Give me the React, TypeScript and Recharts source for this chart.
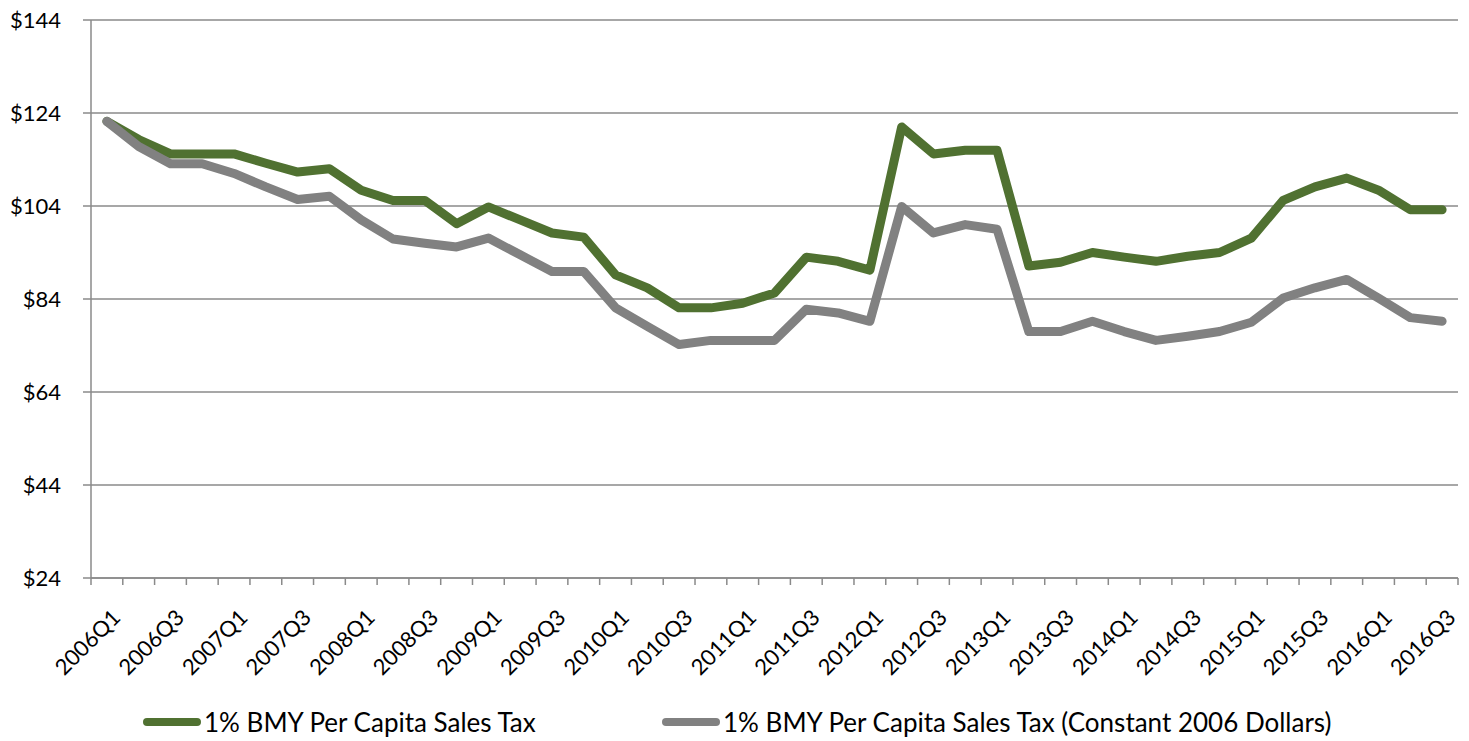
import { LineChart, Line, XAxis, YAxis, CartesianGrid } from 'recharts'

const quarters = [
  '2006Q1', '2006Q2', '2006Q3', '2006Q4',
  '2007Q1', '2007Q2', '2007Q3', '2007Q4',
  '2008Q1', '2008Q2', '2008Q3', '2008Q4',
  '2009Q1', '2009Q2', '2009Q3', '2009Q4',
  '2010Q1', '2010Q2', '2010Q3', '2010Q4',
  '2011Q1', '2011Q2', '2011Q3', '2011Q4',
  '2012Q1', '2012Q2', '2012Q3', '2012Q4',
  '2013Q1', '2013Q2', '2013Q3', '2013Q4',
  '2014Q1', '2014Q2', '2014Q3', '2014Q4',
  '2015Q1', '2015Q2', '2015Q3', '2015Q4',
  '2016Q1', '2016Q2', '2016Q3',
]

const salesTax = [
  122.2, 118.3, 115.2, 115.2, 115.2, 113.2, 111.3, 112, 107.4, 105.2, 105.2,
  100.2, 103.8, 101, 98.2, 97.3, 89.2, 86.4, 82.1, 82.1, 83.1, 85.3, 93, 92.1,
  90.2, 121, 115.2, 116, 116, 91.1, 91.9, 94, 93, 92.1, 93.2, 94, 97.1, 105.2,
  108.1, 110, 107.4, 103.2, 103.2,
]

const salesTaxConstant = [
  122.2, 116.8, 113.1, 113.1, 111, 108.1, 105.4, 106.1, 101, 96.9, 96, 95.2,
  97.1, 93.5, 89.9, 89.9, 82.1, 78.1, 74.2, 75.1, 75.1, 75.1, 81.8, 81, 79.2,
  103.9, 98.2, 100, 99, 77, 77, 79.2, 77, 75.1, 76, 77, 79, 84.2, 86.4, 88.2,
  84.2, 80, 79.2,
]

const yTicks = [24, 44, 64, 84, 104, 124, 144]

const seriesNames = [
  '1% BMY Per Capita Sales Tax',
  '1% BMY Per Capita Sales Tax (Constant 2006 Dollars)',
]

const GREEN = '#507131'
const GRAY = '#818181'
const AXIS = '#8a8a8a'
const FONT = 'Lato, "Open Sans", sans-serif'

const W = 1469
const H = 741
const LEFT = 91
const RIGHT = 11
const BAND = (W - LEFT - RIGHT) / quarters.length

const data = quarters.map((q, i) => ({
  q,
  tax: salesTax[i],
  real: salesTaxConstant[i],
}))

function XTick(props: any) {
  const { x, y, payload, index } = props
  const half = BAND / 2
  return (
    <g>
      <line x1={x - half} x2={x - half} y1={y} y2={y + 7} stroke={AXIS} strokeWidth={1.5} />
      {index === quarters.length - 1 && (
        <line x1={x + half} x2={x + half} y1={y} y2={y + 7} stroke={AXIS} strokeWidth={1.5} />
      )}
      {index % 2 === 0 && (
        <text
          transform={`translate(${x + 15},${y + 41}) rotate(-45)`}
          textAnchor="end"
          fontSize={22}
          fontFamily={FONT}
          fill="#000"
        >
          {payload.value}
        </text>
      )}
    </g>
  )
}

export default function App() {
  return (
    <div style={{ position: 'absolute', left: 0, top: 0, width: W, height: H, background: '#fff' }}>
      <LineChart width={W} height={H} data={data} margin={{ top: 20, right: RIGHT, left: 0, bottom: 0 }}>
        <CartesianGrid vertical={false} stroke={AXIS} strokeWidth={1.5} />
        <XAxis
          dataKey="q"
          interval={0}
          height={163}
          padding={{ left: BAND / 2, right: BAND / 2 }}
          tickLine={false}
          tickSize={0}
          tickMargin={0}
          stroke={AXIS}
          strokeWidth={1.5}
          tick={<XTick />}
        />
        <YAxis
          width={LEFT}
          domain={[24, 144]}
          ticks={yTicks}
          tickSize={8}
          tickMargin={22}
          stroke={AXIS}
          strokeWidth={1.5}
          tickFormatter={(v: number) => `$${v}`}
          tick={{ fontSize: 22, fontFamily: FONT, fill: '#000' }}
        />
        <Line
          dataKey="tax"
          name={seriesNames[0]}
          stroke={GREEN}
          strokeWidth={9}
          dot={false}
          strokeLinecap="round"
          strokeLinejoin="round"
          isAnimationActive={false}
        />
        <Line
          dataKey="real"
          name={seriesNames[1]}
          stroke={GRAY}
          strokeWidth={9}
          dot={false}
          strokeLinecap="round"
          strokeLinejoin="round"
          isAnimationActive={false}
        />
      </LineChart>
      {[
        { left: 143, color: GREEN, label: seriesNames[0] },
        { left: 662, color: GRAY, label: seriesNames[1] },
      ].map((item) => (
        <div
          key={item.label}
          style={{
            position: 'absolute',
            left: item.left,
            top: 722,
            transform: 'translateY(-50%)',
            display: 'flex',
            alignItems: 'center',
            fontFamily: FONT,
            fontSize: 26,
            color: '#000',
            whiteSpace: 'nowrap',
          }}
        >
          <span
            style={{
              display: 'inline-block',
              width: 58,
              height: 8,
              borderRadius: 4,
              background: item.color,
              marginRight: 3,
            }}
          />
          {item.label}
        </div>
      ))}
    </div>
  )
}
